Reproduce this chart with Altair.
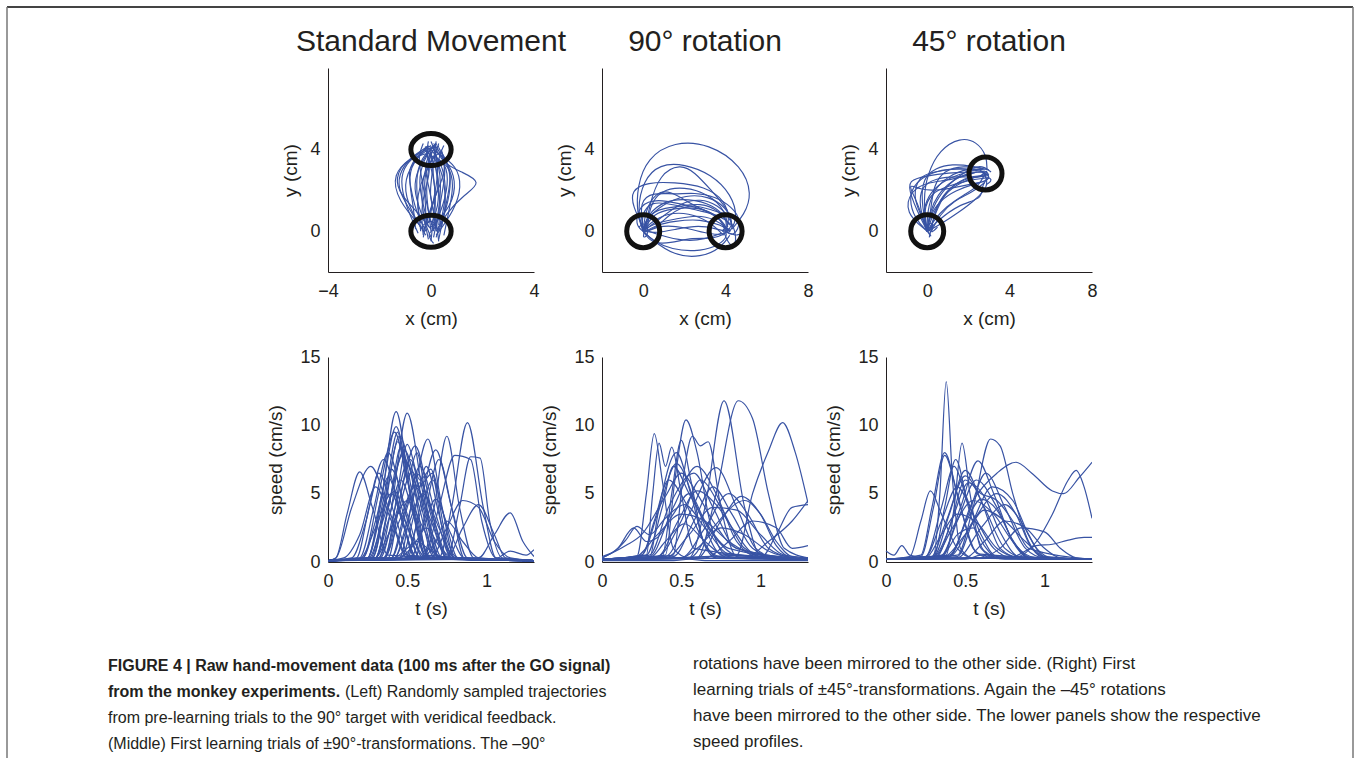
import altair as alt
import pandas as pd

BLUE = "#3853a4"
INK = "#231f20"
FONT = "Liberation Sans"

panel_titles = ["Standard Movement", "90° rotation", "45° rotation"]

# ---------------- hand trajectories (x, y in cm) ----------------
traj_standard = [
    [[0, 0], [-0.1, 1], [-0.2, 2], [-0.1, 3], [0, 4]],
    [[0.1, -0.3], [0.3, 1], [0.4, 2.2], [0.3, 3.3], [0.1, 4.1]],
    [[-0.2, -0.2], [-0.8, 1], [-1.1, 2.3], [-0.7, 3.4], [-0.1, 4.2]],
    [[0, 0.2], [0.8, 1.2], [1.0, 2.5], [0.6, 3.5], [0.1, 4]],
    [[0.2, 0], [0.6, 0.9], [1.3, 1.8], [2.0, 2.4], [1.2, 2.9], [0.5, 3.3], [0.2, 4]],
    [[-0.3, 0.1], [-1.3, 1.5], [-1.5, 2.8], [-0.8, 3.6], [-0.2, 4]],
    [[0.3, -0.4], [0.5, 0.8], [0.7, 2], [0.8, 3], [0.4, 3.9]],
    [[-0.4, 0], [-0.5, 1.2], [-0.6, 2.5], [-0.4, 3.6], [0.2, 4.3]],
    [[0.1, 0.1], [0.2, 1.5], [0.1, 2.8], [-0.2, 3.8], [-0.1, 4.4]],
    [[-0.1, -0.4], [-0.3, 0.8], [-0.4, 2], [-0.2, 3.2], [0.2, 4.3]],
    [[0.4, 0.2], [0.6, 1.2], [0.5, 2.6], [0.2, 3.6], [-0.3, 4.0]],
    [[-0.5, -0.1], [-1.0, 1.3], [-1.2, 2.5], [-1.0, 3.3], [-0.4, 3.9]],
    [[0.2, -0.2], [0.9, 1.0], [1.2, 2.2], [1.0, 3.2], [0.3, 3.8]],
    [[0, -0.5], [0.1, 0.8], [0.2, 2.0], [0.0, 3.2], [0.3, 4.2]],
    [[-0.2, 0.3], [-0.2, 1.6], [-0.4, 2.8], [-0.5, 3.7], [-0.3, 4.3]],
    [[0.3, 0.3], [0.4, 1.4], [0.2, 2.6], [0.3, 3.7], [0.5, 4.2]],
    [[-0.6, 0.1], [-0.7, 1.4], [-0.9, 2.7], [-0.6, 3.6], [0, 4.1]],
    [[0.5, -0.2], [0.7, 1.0], [0.9, 2.3], [0.7, 3.2], [0.2, 3.6]],
    [[-0.1, 0.4], [0.1, 1.5], [0.3, 2.9], [0.2, 3.8], [0, 4.4]],
    [[0, 0.1], [-0.5, 0.9], [-1.2, 1.8], [-1.4, 2.6], [-1.0, 3.5], [-0.2, 3.8]],
    [[0.2, 0.0], [0.1, 1.0], [-0.1, 2.3], [-0.3, 3.3], [0.1, 4.0]],
    [[-0.3, -0.3], [-0.1, 0.9], [0.3, 2.1], [0.6, 3.1], [0.4, 4.0]],
    [[0.1, 0.2], [0.5, 1.3], [0.7, 2.6], [0.5, 3.5], [-0.1, 3.7]],
    [[-0.4, 0.4], [-0.6, 1.5], [-0.3, 2.7], [0.1, 3.6], [0.3, 4.3]],
    [[0.1, -0.6], [-0.2, -0.1], [0.3, 0.2], [0.0, 0.6], [-0.3, 0.3]],
    [[-0.2, 3.7], [0.3, 4.5], [0.1, 3.9], [-0.4, 4.2], [0.2, 4.1]],
    [[0.3, -0.5], [0.2, 0.6], [-0.1, 1.8], [0.1, 3.0], [0.0, 3.9]],
    [[-0.3, 0.0], [0.0, 1.1], [0.4, 2.4], [0.1, 3.4], [-0.2, 4.1]],
    [[0.0, -0.3], [-0.4, 0.9], [-0.7, 2.1], [-0.5, 3.1], [-0.1, 3.9]],
    [[0.2, 0.1], [0.4, 1.7], [0.6, 3.0], [0.4, 3.8], [0.1, 4.3]],
    [[-0.1, 0.2], [-0.3, 1.3], [-0.5, 2.4], [-0.3, 3.5], [0.1, 4.2]],
    [[0.2, -0.3], [0.5, 1.0], [0.6, 2.2], [0.4, 3.4], [0.0, 4.0]],
    [[-0.2, 0.0], [-0.6, 1.0], [-0.8, 2.2], [-0.9, 3.0], [-0.5, 3.8], [0.0, 4.2]],
    [[0.0, 0.3], [0.3, 1.2], [0.3, 2.4], [0.1, 3.5], [0.2, 4.4]],
    [[0.3, 0.0], [0.7, 1.5], [0.8, 2.8], [0.5, 3.6], [0.3, 4.1]],
    [[-0.3, -0.2], [-0.4, 1.0], [-0.2, 2.2], [0.0, 3.0], [-0.2, 4.0]],
    [[0.1, 0.0], [-0.2, 1.4], [-0.3, 2.6], [0.0, 3.6], [0.4, 3.9]],
    [[-0.4, 0.2], [-0.9, 1.2], [-1.3, 2.1], [-1.2, 3.0], [-0.7, 3.7], [-0.2, 4.1]],
]

traj_rot90 = [
    [[0, 0], [-0.3, 0.8], [-0.3, 2.2], [0.2, 3.6], [1.5, 4.4], [3.2, 4.3], [4.8, 3.2], [5.3, 1.8], [4.9, 0.8], [4.3, 0.1]],
    [[0, 0], [-0.3, 1.0], [0.0, 2.5], [0.8, 3.3], [2.0, 3.3], [3.3, 2.8], [4.3, 1.8], [4.6, 0.6], [4.2, 0]],
    [[0, 0.2], [-0.5, 1.2], [-0.6, 2.0], [0.2, 2.4], [1.5, 2.4], [3.0, 2.2], [4.0, 1.5], [4.2, 0.5], [4, 0]],
    [[0.2, 0], [0.3, 1.2], [0.8, 2.0], [2.0, 2.2], [3.2, 1.8], [4.0, 1.0], [4.1, 0.2]],
    [[0, 0], [0.2, 0.8], [1.0, 1.5], [2.2, 1.6], [3.4, 1.3], [4.1, 0.6], [4, 0]],
    [[0, 0], [0.5, 0.9], [1.4, 1.1], [2.6, 1.2], [3.6, 0.8], [4, 0.1]],
    [[0, -0.1], [0.6, 0.3], [1.5, 0.5], [2.8, 0.6], [3.8, 0.3], [4.2, 0]],
    [[0, 0], [0.5, -0.5], [1.4, -0.9], [2.5, -1.0], [3.5, -0.8], [4.1, -0.3], [4, 0]],
    [[0, 0], [0.4, -0.4], [1.5, -1.2], [2.8, -1.3], [3.8, -0.8], [4.2, -0.2]],
    [[0, 0.1], [0.8, -0.2], [2.0, -0.5], [3.0, -0.4], [3.8, -0.1]],
    [[0.1, 0], [0.3, 1.3], [0.8, 2.8], [1.8, 3.3], [2.5, 2.9], [3.3, 2.0], [4.2, 1.0], [4.3, 0.2]],
    [[0, 0], [-0.2, 1.5], [0.5, 1.9], [1.5, 1.8], [2.5, 1.9], [3.5, 1.7], [4.3, 1.2], [4.8, 0.5], [4.4, -0.3], [4.0, 0]],
    [[0, 0], [0.1, 1.0], [0.6, 1.9], [1.3, 2.0], [2.2, 1.4], [3.0, 1.0], [3.8, 0.6], [4.1, 0]],
    [[0, 0], [0.3, 0.4], [1.2, 0.9], [2.2, 0.9], [3.2, 0.5], [3.9, -0.2]],
    [[0, 0], [0.6, -0.1], [1.6, 0.1], [2.7, 0.3], [3.6, 0.1], [4.0, 0]],
    [[0, 0], [0.8, 0.6], [1.8, 1.4], [2.8, 1.6], [3.6, 1.3], [4.3, 0.6], [4.6, -0.6], [4.2, -0.8], [3.9, 0]],
    [[0, 0], [0.2, 0.6], [0.9, 1.3], [2.1, 1.8], [3.2, 1.7], [4.0, 1.2], [4.4, 0.4], [4.1, 0]],
    [[0, 0], [-0.4, 0.3], [-0.2, 1.3], [0.7, 1.6], [1.9, 1.3], [3.0, 1.1], [3.9, 0.5], [4.1, 0]],
    [[0, 0], [0.4, -0.6], [1.3, -0.6], [2.4, -0.3], [3.4, -0.4], [4.0, -0.1]],
    [[0, 0], [0.6, 0.1], [1.2, 0.8], [2.3, 1.4], [3.4, 1.0], [4.5, 0.7], [5.0, 0.1], [4.6, -0.3], [4.0, 0]],
    [[0, 0], [-0.1, 0.8], [0.4, 1.5], [1.5, 1.3], [2.7, 1.0], [3.7, 0.8], [4.3, 0.3]],
    [[0.2, 0], [0.9, 0.3], [2.0, 0.2], [3.0, -0.1], [3.8, -0.2], [4.1, 0]],
    [[0, 0], [0.2, 0.3], [-0.1, -0.4], [0.3, -0.2], [0.1, 0.5], [-0.2, 0.2]],
    [[4, 0], [3.8, 0.4], [4.3, -0.2], [4.1, 0.3], [3.7, -0.1], [4.2, 0.1]],
    [[0, 0], [0.1, 0.6], [0.7, 1.1], [1.7, 1.2], [2.8, 1.4], [3.7, 1.0], [4.2, 0.3]],
    [[0, 0], [0.5, 0.4], [1.6, 0.6], [2.6, 0.8], [3.5, 0.6], [4.1, 0.1]],
]

traj_rot45 = [
    [[0, 0], [-0.2, 1.5], [0, 2.8], [0.6, 4.0], [1.6, 4.6], [2.4, 4.4], [2.9, 3.7], [2.9, 3.0]],
    [[0, 0], [-0.5, 1.0], [-1.0, 2.3], [-0.6, 2.6], [0.5, 2.8], [1.6, 2.9], [2.7, 2.9]],
    [[0, 0], [-0.3, 0.8], [-0.7, 1.7], [-0.4, 2.7], [0.3, 2.9], [1.4, 3.1], [2.6, 3.0]],
    [[0, 0], [0, 1.0], [0.3, 2.0], [1.0, 2.7], [2.0, 3.1], [2.8, 3.0]],
    [[0, 0], [0.3, 0.9], [0.8, 1.8], [1.6, 2.4], [2.5, 2.7], [2.9, 2.8]],
    [[0.2, 0], [0.6, 0.8], [1.3, 1.5], [2.2, 1.9], [2.8, 2.4]],
    [[0, 0], [0.5, 0.5], [1.5, 1.3], [2.7, 1.6], [2.6, 2.1], [2.9, 2.6]],
    [[0, 0], [-0.6, 0.6], [-0.9, 1.6], [-0.6, 2.4], [0.4, 3.0], [1.8, 3.1], [2.8, 2.9]],
    [[0, 0], [0.2, 1.2], [0.3, 2.2], [0.8, 3.0], [1.8, 3.2], [2.6, 3.1]],
    [[0, 0], [-0.2, 1.0], [0.2, 1.9], [1.0, 2.2], [2.0, 2.5], [2.8, 2.6]],
    [[0.1, 0], [0.5, 1.2], [1.1, 2.2], [1.9, 2.6], [2.7, 2.7]],
    [[0, 0], [-0.4, 1.2], [-0.3, 2.2], [0.4, 2.6], [1.5, 2.7], [2.5, 2.6], [3.0, 2.8]],
    [[0, 0], [0.3, 0.5], [0.9, 1.2], [1.8, 1.8], [2.5, 2.2], [2.8, 2.8]],
    [[0, 0], [-1.1, 0.9], [-0.8, 2.0], [0.0, 2.4], [1.2, 2.5], [2.4, 2.9]],
    [[0, 0], [-0.3, 1.5], [-0.2, 2.6], [0.4, 3.1], [1.2, 3.3], [2.2, 3.2], [3.0, 3.0]],
    [[0, 0], [0.1, 0.7], [0.6, 1.5], [1.4, 2.0], [2.2, 2.3], [3.1, 2.5], [2.9, 2.9]],
    [[0, 0], [-0.5, 1.5], [-1.0, 2.4], [-0.3, 2.0], [0.6, 2.0], [1.6, 2.2], [2.6, 2.4]],
    [[0.1, -0.3], [0.3, 0.6], [0.6, 1.6], [1.3, 2.3], [2.2, 2.8], [3.3, 2.6], [2.9, 2.3]],
    [[0, 0], [0.6, 0.3], [1.5, 0.9], [2.3, 1.5], [3.0, 2.2], [2.8, 2.8]],
    [[0, 0], [0.2, 1.1], [0.9, 2.2], [1.8, 2.9], [2.6, 3.3], [3.1, 2.9]],
    [[0, 0], [0.3, -0.4], [-0.2, 0.3], [0.4, 0.5], [0.1, -0.2], [0.5, 0.2]],
    [[2.8, 2.8], [2.4, 3.1], [3.2, 2.6], [2.7, 2.5], [3.0, 3.1], [2.6, 2.7]],
    [[0, 0], [0.1, 0.9], [0.5, 1.8], [1.2, 2.5], [2.1, 2.9], [2.9, 2.9]],
    [[0, 0], [-0.2, 0.6], [-0.1, 1.5], [0.5, 2.3], [1.5, 2.8], [2.7, 3.1]],
]

targets_standard = [[0, 0], [0, 4]]
targets_rot90 = [[0, 0], [4, 0]]
targets_rot45 = [[0, 0], [2.83, 2.83]]

# ---------------- speed profiles (t in s, speed in cm/s) ----------------
speed_standard = [
    [[0, 0.1], [0.25, 0.3], [0.33, 4], [0.43, 11], [0.53, 4], [0.62, 0.3], [1.3, 0.1]],
    [[0, 0.1], [0.32, 0.3], [0.4, 4], [0.5, 10.9], [0.6, 5], [0.7, 0.4], [1.3, 0.1]],
    [[0, 0.1], [0.7, 0.3], [0.78, 4], [0.88, 10.2], [0.98, 4], [1.06, 0.3], [1.3, 0.1]],
    [[0, 0.1], [0.25, 0.3], [0.34, 5], [0.43, 9.9], [0.52, 5], [0.62, 0.3], [1.3, 0.1]],
    [[0, 0.1], [0.22, 0.3], [0.32, 5], [0.42, 9.5], [0.5, 6], [0.62, 0.5], [1.3, 0.1]],
    [[0, 0.1], [0.6, 0.3], [0.67, 4], [0.75, 9.2], [0.83, 4], [0.92, 0.3], [1.3, 0.1]],
    [[0, 0.1], [0.45, 0.3], [0.54, 5], [0.63, 9.0], [0.72, 4], [0.8, 0.3], [1.3, 0.1]],
    [[0, 0.1], [0.38, 0.3], [0.46, 5], [0.55, 8.5], [0.65, 4], [0.75, 0.3], [1.3, 0.1]],
    [[0, 0.1], [0.5, 0.3], [0.58, 4], [0.68, 8.2], [0.78, 4], [0.88, 0.3], [1.3, 0.1]],
    [[0, 0.1], [0.6, 0.3], [0.7, 4], [0.8, 7.8], [0.9, 7.5], [0.97, 3], [1.06, 0.3], [1.3, 0.1]],
    [[0, 0.1], [0.75, 0.3], [0.83, 4], [0.9, 7.7], [0.96, 7.6], [1.02, 3], [1.1, 0.3], [1.3, 0.1]],
    [[0, 0.1], [0.05, 0.3], [0.15, 4], [0.27, 7.0], [0.38, 4], [0.5, 0.5], [1.3, 0.1]],
    [[0, 0.1], [0.05, 0.3], [0.12, 3.5], [0.2, 6.6], [0.28, 4], [0.38, 0.5], [1.3, 0.1]],
    [[0, 0.1], [0.2, 0.3], [0.29, 4], [0.38, 8.0], [0.48, 4], [0.58, 0.3], [1.3, 0.1]],
    [[0, 0.1], [0.18, 0.3], [0.26, 4], [0.35, 7.5], [0.45, 4], [0.55, 0.3], [1.3, 0.1]],
    [[0, 0.1], [0.15, 0.3], [0.24, 3], [0.32, 6.5], [0.42, 3.5], [0.52, 0.3], [1.3, 0.1]],
    [[0, 0.1], [0.3, 0.3], [0.38, 3], [0.46, 6.0], [0.55, 3], [0.65, 0.3], [1.3, 0.1]],
    [[0, 0.1], [0.35, 0.3], [0.45, 3], [0.55, 5.5], [0.65, 3], [0.75, 0.3], [1.3, 0.1]],
    [[0, 0.1], [0.42, 0.3], [0.5, 2.5], [0.6, 5.0], [0.7, 2.5], [0.8, 0.3], [1.3, 0.1]],
    [[0, 0.1], [0.32, 0.3], [0.4, 2.5], [0.5, 4.5], [0.6, 2.5], [0.7, 0.3], [1.3, 0.1]],
    [[0, 0.1], [0.75, 0.3], [0.85, 2.5], [0.95, 4.2], [1.05, 2], [1.12, 0.3], [1.3, 0.1]],
    [[0, 0.1], [0.95, 0.3], [1.05, 2], [1.15, 3.6], [1.23, 1.5], [1.3, 0.4]],
    [[0, 0.1], [0.6, 0.3], [0.68, 1.5], [0.75, 3.0], [0.85, 1.5], [0.95, 0.3], [1.3, 0.1]],
    [[0, 0.1], [0.45, 0.3], [0.55, 1.4], [0.62, 2.5], [0.7, 1.2], [0.8, 0.2], [1.3, 0.1]],
    [[0, 0.1], [0.4, 0.2], [0.5, 1.0], [0.56, 1.5], [0.65, 0.8], [0.75, 0.2], [1.3, 0.1]],
    [[0, 0.1], [0.27, 0.3], [0.35, 4], [0.44, 9.5], [0.5, 6], [0.56, 8], [0.64, 3], [0.72, 0.3], [1.3, 0.1]],
    [[0, 0.1], [0.28, 0.3], [0.36, 4], [0.44, 8.8], [0.54, 4], [0.64, 0.3], [1.3, 0.1]],
    [[0, 0.1], [0.3, 0.3], [0.4, 5], [0.48, 8.2], [0.58, 4.5], [0.68, 0.3], [1.3, 0.1]],
    [[0, 0.1], [0.55, 0.3], [0.62, 4], [0.7, 7.5], [0.78, 4], [0.86, 0.3], [1.3, 0.1]],
    [[0, 0.1], [0.4, 0.3], [0.5, 4], [0.58, 7.0], [0.68, 3.5], [0.78, 0.3], [1.3, 0.1]],
    [[0, 0.1], [0.25, 0.3], [0.33, 3.5], [0.4, 6.8], [0.5, 3.5], [0.6, 0.3], [1.3, 0.1]],
    [[0, 0.1], [0.35, 0.3], [0.44, 4], [0.52, 7.5], [0.6, 4], [0.7, 0.3], [1.3, 0.1]],
    [[0, 0.1], [0.65, 0.3], [0.75, 2.5], [0.85, 4.5], [0.95, 4.0], [1.05, 1.5], [1.15, 0.3], [1.3, 0.1]],
    [[0, 0.1], [1.05, 0.2], [1.15, 0.8], [1.25, 0.5], [1.3, 0.9]],
    [[0, 0.1], [0.28, 0.3], [0.37, 5], [0.45, 9.2], [0.55, 5], [0.63, 0.3], [1.3, 0.1]],
    [[0, 0.1], [0.1, 0.3], [0.2, 2], [0.3, 5.5], [0.4, 3], [0.5, 0.3], [1.3, 0.1]],
    [[0, 0.1], [0.48, 0.2], [0.58, 3.5], [0.66, 6.0], [0.74, 3], [0.82, 0.3], [1.3, 0.1]],
    [[0, 0.1], [0.2, 0.2], [0.3, 2.5], [0.4, 5.0], [0.48, 2.5], [0.56, 0.3], [1.3, 0.1]],
    [[0, 0.1], [0.3, 0.3], [0.38, 4], [0.47, 7.8], [0.57, 5.5], [0.66, 6.5], [0.74, 2], [0.82, 0.3], [1.3, 0.1]],
    [[0, 0.1], [0.36, 0.3], [0.44, 3.5], [0.53, 6.6], [0.62, 3.5], [0.7, 0.3], [1.3, 0.1]],
    [[0, 0.1], [0.42, 0.3], [0.5, 3], [0.58, 5.8], [0.67, 3], [0.76, 0.3], [1.3, 0.1]],
    [[0, 0.1], [0.26, 0.3], [0.34, 2.8], [0.42, 5.2], [0.5, 2.6], [0.58, 0.3], [1.3, 0.1]],
    [[0, 0.1], [0.3, 0.3], [0.39, 4.5], [0.46, 8.4], [0.55, 4], [0.64, 0.3], [1.3, 0.1]],
    [[0, 0.1], [0.33, 0.3], [0.42, 3.8], [0.5, 7.2], [0.58, 3.8], [0.67, 0.3], [1.3, 0.1]],
    [[0, 0.1], [0.4, 0.3], [0.48, 3.5], [0.57, 6.4], [0.66, 3.0], [0.75, 0.3], [1.3, 0.1]],
    [[0, 0.1], [0.22, 0.3], [0.3, 3.0], [0.38, 6.2], [0.47, 3.0], [0.56, 0.3], [1.3, 0.1]],
    [[0, 0.1], [0.46, 0.3], [0.55, 3.8], [0.62, 7.0], [0.7, 3.5], [0.78, 0.3], [1.3, 0.1]],
    [[0, 0.1], [0.52, 0.3], [0.6, 2.5], [0.68, 4.6], [0.77, 2.2], [0.86, 0.3], [1.3, 0.1]],
    [[0, 0.1], [0.3, 0.3], [0.38, 2.0], [0.45, 3.6], [0.53, 1.8], [0.62, 0.3], [1.3, 0.1]],
    [[0, 0.1], [0.36, 0.3], [0.43, 4.5], [0.5, 8.6], [0.58, 6], [0.65, 6.8], [0.72, 2.5], [0.8, 0.3], [1.3, 0.1]],
]

speed_rot90 = [
    [[0, 0.2], [0.55, 0.3], [0.65, 4], [0.77, 11.8], [0.9, 4], [1.0, 0.5], [1.3, 0.2]],
    [[0, 0.2], [0.6, 0.3], [0.72, 5], [0.86, 11.8], [0.95, 10.5], [1.05, 5], [1.15, 1], [1.3, 0.3]],
    [[0, 0.2], [0.85, 0.5], [0.95, 5], [1.05, 8.1], [1.14, 10.2], [1.22, 8], [1.3, 4.3]],
    [[0, 0.2], [0.4, 0.5], [0.46, 6], [0.53, 10.4], [0.6, 8], [0.68, 3], [0.8, 0.4], [1.3, 0.2]],
    [[0, 0.2], [0.22, 0.4], [0.28, 5], [0.33, 9.4], [0.38, 6], [0.45, 1], [0.55, 0.3], [1.3, 0.2]],
    [[0, 0.2], [0.45, 0.5], [0.51, 6], [0.57, 9.2], [0.62, 8.5], [0.67, 8.8], [0.75, 4], [0.85, 0.4], [1.3, 0.2]],
    [[0, 0.2], [0.38, 0.4], [0.44, 5], [0.5, 8.9], [0.56, 6], [0.64, 1.5], [0.72, 0.3], [1.3, 0.2]],
    [[0, 0.2], [0.28, 0.5], [0.32, 5], [0.36, 8.7], [0.4, 7], [0.44, 8.4], [0.5, 5], [0.58, 1], [1.3, 0.2]],
    [[0, 0.2], [0.3, 0.3], [0.36, 4], [0.47, 8.0], [0.56, 5], [0.66, 1], [0.78, 0.3], [1.3, 0.2]],
    [[0, 0.2], [0.25, 0.5], [0.35, 3.5], [0.47, 7.2], [0.6, 4], [0.75, 0.6], [1.3, 0.2]],
    [[0, 0.2], [0.3, 0.4], [0.45, 4], [0.6, 7.0], [0.72, 5], [0.85, 1.5], [1.0, 0.3], [1.3, 0.2]],
    [[0, 0.2], [0.4, 0.4], [0.55, 3.5], [0.72, 6.9], [0.85, 4], [0.97, 1], [1.1, 0.3], [1.3, 0.2]],
    [[0, 0.2], [0.3, 0.5], [0.42, 4], [0.58, 6.5], [0.7, 4], [0.85, 1], [1.3, 0.2]],
    [[0, 0.2], [0.35, 0.4], [0.5, 3], [0.62, 6.0], [0.75, 4], [0.9, 1], [1.05, 0.3], [1.3, 0.2]],
    [[0, 0.2], [0.45, 0.4], [0.58, 3], [0.7, 5.5], [0.82, 3.5], [0.95, 1], [1.1, 0.3], [1.3, 0.2]],
    [[0, 0.2], [0.5, 0.3], [0.65, 2.5], [0.8, 5.0], [0.92, 3.5], [1.05, 1], [1.2, 0.3], [1.3, 0.2]],
    [[0, 0.2], [0.55, 0.3], [0.7, 2.5], [0.9, 4.5], [1.0, 3.5], [1.1, 1.5], [1.2, 0.4], [1.3, 0.3]],
    [[0, 0.2], [0.4, 0.3], [0.55, 2.0], [0.7, 4.0], [0.85, 3.8], [1.0, 2], [1.15, 0.5], [1.3, 0.3]],
    [[0, 0.3], [0.1, 1], [0.2, 2.5], [0.28, 1.5], [0.35, 1.8], [0.45, 3.5], [0.55, 5], [0.65, 3], [0.8, 1], [1.3, 0.2]],
    [[0, 0.2], [0.2, 0.3], [0.35, 2], [0.5, 3.5], [0.65, 3], [0.8, 1.5], [1.0, 0.4], [1.3, 0.2]],
    [[0, 0.2], [0.9, 0.3], [1.05, 1.5], [1.2, 3.0], [1.3, 4.5]],
    [[0, 0.2], [1.0, 0.3], [1.1, 2], [1.2, 4], [1.3, 4.2]],
    [[0, 0.2], [0.5, 0.3], [0.6, 1], [0.75, 2.5], [0.9, 2], [1.05, 0.8], [1.2, 0.3], [1.3, 0.2]],
    [[0, 0.3], [0.15, 1.2], [0.25, 2], [0.4, 4.8], [0.5, 6.5], [0.6, 5], [0.7, 3], [0.85, 1], [1.3, 0.2]],
    [[0, 0.2], [0.28, 0.5], [0.38, 4], [0.45, 7.0], [0.55, 5], [0.7, 2], [0.85, 0.5], [1.3, 0.2]],
    [[0, 0.2], [0.65, 0.3], [0.8, 1.5], [0.95, 3], [1.1, 2.5], [1.2, 1], [1.3, 1.2]],
    [[0, 0.2], [0.3, 0.3], [0.4, 1.5], [0.52, 2.8], [0.65, 1.5], [0.8, 0.3], [1.3, 0.2]],
    [[0, 0.2], [0.25, 0.5], [0.33, 3], [0.42, 6], [0.52, 4.5], [0.62, 2], [0.72, 0.4], [1.3, 0.2]],
    [[0, 0.2], [0.6, 0.3], [0.75, 3], [0.88, 4.8], [1.0, 3.5], [1.1, 1.2], [1.2, 0.3], [1.3, 0.2]],
    [[0, 0.1], [0.45, 0.1], [0.55, 0.2], [0.65, 0.1], [1.3, 0.1]],
    [[0, 0.4], [0.08, 0.8], [0.15, 1.6], [0.22, 2.6], [0.3, 2.0], [0.4, 3.2], [0.52, 4.2], [0.65, 2.5], [0.8, 0.6], [1.3, 0.2]],
    [[0, 0.2], [0.35, 0.4], [0.48, 3], [0.6, 5.2], [0.72, 4.2], [0.84, 2.2], [0.96, 0.6], [1.3, 0.2]],
]

speed_rot45 = [
    [[0, 0.2], [0.3, 0.4], [0.34, 5], [0.38, 13.2], [0.42, 6], [0.47, 1], [0.55, 0.3], [1.3, 0.2]],
    [[0, 0.2], [0.38, 0.5], [0.43, 4], [0.48, 8.7], [0.53, 5], [0.6, 1], [0.7, 0.3], [1.3, 0.2]],
    [[0, 0.2], [0.45, 0.5], [0.55, 4], [0.66, 9.0], [0.72, 8.5], [0.8, 5], [0.9, 1.5], [1.0, 0.3], [1.3, 0.2]],
    [[0, 0.2], [0.22, 0.5], [0.29, 4], [0.37, 8.0], [0.45, 5], [0.55, 1], [0.65, 0.3], [1.3, 0.2]],
    [[0, 0.2], [0.22, 0.4], [0.3, 4], [0.37, 7.8], [0.47, 4], [0.58, 0.6], [1.3, 0.2]],
    [[0, 0.2], [0.3, 0.4], [0.37, 4], [0.44, 7.5], [0.52, 4], [0.62, 0.8], [0.75, 0.2], [1.3, 0.2]],
    [[0, 0.2], [0.35, 0.5], [0.47, 4], [0.58, 7.4], [0.68, 5], [0.8, 1.5], [0.9, 0.3], [1.3, 0.2]],
    [[0, 0.2], [0.4, 0.5], [0.55, 4.5], [0.7, 6.5], [0.82, 7.3], [0.92, 6.5], [1.05, 5.2], [1.12, 5.0], [1.22, 6.2], [1.3, 7.3]],
    [[0, 0.2], [0.8, 0.3], [0.95, 1.5], [1.05, 3.5], [1.15, 6], [1.2, 6.7], [1.25, 5.5], [1.3, 3.2]],
    [[0, 0.2], [0.8, 0.4], [0.95, 1.2], [1.05, 1.3], [1.15, 1.6], [1.25, 1.8], [1.3, 1.8]],
    [[0, 0.2], [0.3, 0.4], [0.4, 3.5], [0.5, 6.7], [0.6, 4.5], [0.72, 1], [0.85, 0.3], [1.3, 0.2]],
    [[0, 0.2], [0.4, 0.4], [0.52, 3.5], [0.63, 6.5], [0.75, 4], [0.88, 1], [1.0, 0.3], [1.3, 0.2]],
    [[0, 0.2], [0.28, 0.3], [0.38, 3], [0.5, 6.3], [0.62, 4], [0.75, 1], [0.88, 0.3], [1.3, 0.2]],
    [[0, 0.2], [0.35, 0.4], [0.45, 3], [0.57, 6.0], [0.7, 4], [0.82, 1.2], [0.95, 0.3], [1.3, 0.2]],
    [[0, 0.2], [0.25, 0.4], [0.35, 3], [0.45, 5.5], [0.55, 3.5], [0.68, 1], [0.8, 0.3], [1.3, 0.2]],
    [[0, 0.2], [0.15, 0.4], [0.22, 3], [0.28, 5.2], [0.35, 3.5], [0.45, 1], [0.55, 0.3], [1.3, 0.2]],
    [[0, 0.2], [0.4, 0.4], [0.55, 3], [0.7, 5.0], [0.82, 3.5], [0.92, 1], [1.02, 0.3], [1.3, 0.2]],
    [[0, 0.2], [0.3, 0.3], [0.42, 2.5], [0.55, 4.5], [0.68, 3.5], [0.8, 1.5], [0.92, 0.3], [1.3, 0.2]],
    [[0, 0.2], [0.45, 0.3], [0.6, 2.5], [0.75, 4.2], [0.85, 3], [0.95, 1], [1.05, 0.3], [1.3, 0.2]],
    [[0, 0.2], [0.35, 0.3], [0.5, 2], [0.62, 3.8], [0.75, 3], [0.88, 1.5], [1.0, 0.4], [1.3, 0.2]],
    [[0, 0.2], [0.25, 0.3], [0.35, 2], [0.45, 3.5], [0.58, 2.8], [0.7, 1], [0.85, 0.3], [1.3, 0.2]],
    [[0, 0.2], [0.5, 0.3], [0.62, 1.5], [0.75, 3], [0.88, 2.5], [1.0, 1], [1.1, 0.3], [1.3, 0.2]],
    [[0, 0.2], [0.3, 0.4], [0.4, 2.5], [0.5, 6.0], [0.6, 5], [0.7, 4.5], [0.8, 3], [0.9, 1], [1.3, 0.2]],
    [[0, 0.8], [0.05, 0.5], [0.1, 1.2], [0.15, 0.5], [0.25, 0.3], [1.3, 0.2]],
    [[0, 0.2], [0.6, 0.3], [0.72, 1], [0.85, 2.5], [1.0, 2.2], [1.1, 1], [1.2, 0.3], [1.3, 0.2]],
    [[0, 0.2], [0.35, 0.4], [0.45, 2], [0.55, 2.5], [0.62, 1.2], [0.7, 0.3], [1.3, 0.2]],
    [[0, 0.2], [0.5, 0.2], [0.6, 0.5], [0.7, 0.3], [1.3, 0.2]],
    [[0, 0.2], [0.25, 0.4], [0.35, 4], [0.43, 7.0], [0.5, 5], [0.6, 2], [0.7, 0.4], [1.3, 0.2]],
    [[0, 0.2], [0.45, 0.4], [0.55, 3], [0.67, 5.5], [0.8, 4.5], [0.9, 2], [1.0, 0.4], [1.3, 0.2]],
    [[0, 0.2], [0.32, 0.4], [0.42, 3.2], [0.52, 5.8], [0.62, 4.8], [0.72, 2.2], [0.84, 0.4], [1.3, 0.2]],
    [[0, 0.2], [0.4, 0.4], [0.5, 2.8], [0.6, 4.6], [0.7, 3.8], [0.8, 1.6], [0.9, 0.3], [1.3, 0.2]],
]

top_x_domains = [[-4, 4], [-2, 8], [-2, 8]]
top_x_ticks = [[-4, 0, 4], [0, 4, 8], [0, 4, 8]]
top_y_ticks = [0, 4]
speed_x_ticks = [0, 0.5, 1]
speed_y_ticks = [0, 5, 10, 15]

caption_left_bold = "FIGURE 4 | Raw hand-movement data (100 ms after the GO signal)"
caption_left_bold2 = "from the monkey experiments."
caption_left_rest = [
    "(Left) Randomly sampled trajectories",
    "from pre-learning trials to the 90° target with veridical feedback.",
    "(Middle) First learning trials of ±90°-transformations. The –90°",
]
caption_right = [
    "rotations have been mirrored to the other side. (Right) First",
    "learning trials of ±45°-transformations. Again the –45° rotations",
    "have been mirrored to the other side. The lower panels show the respective",
    "speed profiles.",
]


def traj_frame(trajs):
    rows = []
    for k, tr in enumerate(trajs):
        for j, (x, y) in enumerate(tr):
            rows.append({"trial": k, "i": j, "x": x, "y": y})
    return pd.DataFrame(rows)


def speed_frame(curves):
    rows = []
    for k, c in enumerate(curves):
        for j, (t, v) in enumerate(c):
            rows.append({"trial": k, "i": j, "t": t, "v": v})
    return pd.DataFrame(rows)


ELLIPSE = "M -1.26 0 A 1.26 1 0 1 0 1.26 0 A 1.26 1 0 1 0 -1.26 0 Z"


def top_panel(title, trajs, targets, xdom, xticks, ring_shape, ring_size, lead=0):
    width = 206 + lead
    xscale = alt.Scale(domain=xdom, nice=False, zero=False, range=[lead, width]) if lead else \
        alt.Scale(domain=xdom, nice=False, zero=False)
    xenc = alt.X("x:Q", scale=xscale,
                 axis=alt.Axis(values=xticks, title="x (cm)", format="~g"))
    yaxis = alt.Axis(values=top_y_ticks, title="y (cm)", titlePadding=9, format="~g", offset=-lead) if lead else \
        alt.Axis(values=top_y_ticks, title="y (cm)", titlePadding=9, format="~g")
    yenc = alt.Y("y:Q", scale=alt.Scale(domain=[-2, 8], nice=False, zero=False), axis=yaxis)
    lines = alt.Chart(traj_frame(trajs)).mark_line(
        color=BLUE, strokeWidth=1.15, interpolate="basis", clip=True
    ).encode(x=xenc, y=yenc, detail="trial:N", order="i:Q")
    rings = alt.Chart(pd.DataFrame(targets, columns=["x", "y"])).mark_point(
        shape=ring_shape, size=ring_size, filled=False, color="#111111", strokeWidth=5, opacity=1
    ).encode(x=xenc, y=yenc)
    return alt.layer(lines, rings).properties(
        width=width, height=204,
        title=alt.TitleParams(title, fontSize=30, font=FONT, fontWeight="normal", color=INK,
                              anchor="middle", frame="group", baseline="alphabetic", offset=-13,
                              dx=lead / 2),
    )


def bottom_panel(curves, lead=0):
    width = 206 + lead
    xscale = alt.Scale(domain=[0, 1.3], nice=False, zero=False, range=[lead, width]) if lead else \
        alt.Scale(domain=[0, 1.3], nice=False, zero=False)
    xenc = alt.X("t:Q", scale=xscale,
                 axis=alt.Axis(values=speed_x_ticks, title="t (s)", format="~g"))
    yaxis = alt.Axis(values=speed_y_ticks, title="speed (cm/s)", titlePadding=14, format="~g", offset=-lead) if lead else \
        alt.Axis(values=speed_y_ticks, title="speed (cm/s)", titlePadding=14, format="~g")
    yenc = alt.Y("v:Q", scale=alt.Scale(domain=[0, 15], nice=False), axis=yaxis)
    return alt.Chart(speed_frame(curves)).mark_line(
        color=BLUE, strokeWidth=1.2, interpolate="monotone", clip=True
    ).encode(x=xenc, y=yenc, detail="trial:N", order="i:Q").properties(width=width, height=205)


p1 = top_panel(panel_titles[0], traj_standard, targets_standard, top_x_domains[0], top_x_ticks[0], ELLIPSE, 1024)
p2 = top_panel(panel_titles[1], traj_rot90, targets_rot90, top_x_domains[1], top_x_ticks[1], "circle", 1089)
p3 = top_panel(panel_titles[2], traj_rot45, targets_rot45, top_x_domains[2], top_x_ticks[2], "circle", 1089, lead=10)
p4 = bottom_panel(speed_standard)
p5 = bottom_panel(speed_rot90)
p6 = bottom_panel(speed_rot45, lead=10)

# caption + page frame (positions relative to this small panel's origin)
base = alt.Chart(pd.DataFrame({"k": [0]}))


def txt(s, x, y, bold=False, size=16):
    return base.mark_text(
        align="left", baseline="alphabetic", font=FONT, fontSize=size,
        fontWeight="bold" if bold else "normal", color=INK
    ).encode(x=alt.value(x), y=alt.value(y), text=alt.value(s))


frame_top = base.mark_rule(color="#444444", strokeWidth=2).encode(
    x=alt.value(-321), x2=alt.value(1025), y=alt.value(-640))
frame_left = base.mark_rule(color="#777777", strokeWidth=1.5).encode(
    x=alt.value(-321), y=alt.value(-640), y2=alt.value(111))
frame_right = base.mark_rule(color="#777777", strokeWidth=1.5).encode(
    x=alt.value(1025), y=alt.value(-640), y2=alt.value(111))

left_x = -220
right_x = 365
layers = [frame_top, frame_left, frame_right,
          txt(caption_left_bold, left_x, 24, True),
          txt(caption_left_bold2, left_x, 50, True),
          txt(caption_left_rest[0], 17, 50),
          txt(caption_left_rest[1], left_x, 76),
          txt(caption_left_rest[2], left_x, 102)]
for n, line in enumerate(caption_right):
    layers.append(txt(line, right_x, 22 + 26 * n, size=17))

p7 = alt.layer(*layers).properties(width=206, height=1)

chart = alt.concat(
    p1, p2, p3, p4, p5, p6, p7, columns=3,
    spacing={"row": 85, "column": 68}, bounds="flush"
).properties(
    padding={"left": 6, "top": 6, "right": 2, "bottom": 0}
).configure_view(
    strokeWidth=0
).configure_axis(
    domainColor=INK, domainWidth=1, ticks=False, tickSize=0, grid=False,
    labelFont=FONT, labelFontSize=18, labelColor=INK, labelFlush=False,
    titleFont=FONT, titleFontSize=19, titleFontWeight="normal", titleColor=INK,
).configure_axisX(
    labelPadding=10, titlePadding=9
).configure_axisY(
    labelPadding=8
)

chart.save("out.html", embed_options={"renderer": "svg", "actions": False})
